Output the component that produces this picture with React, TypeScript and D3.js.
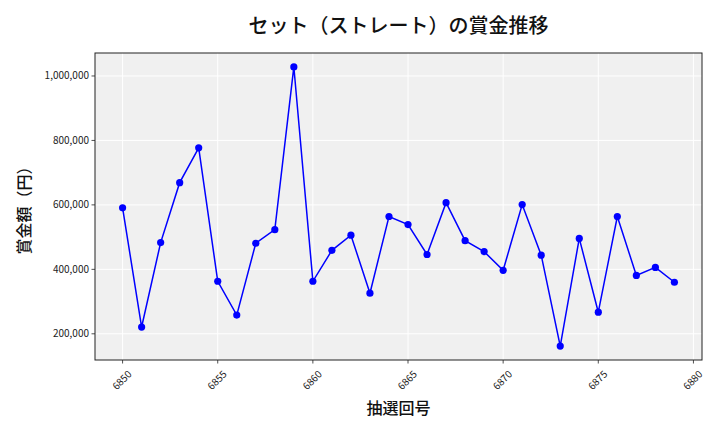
import { useEffect, useRef } from 'react'
import * as d3 from 'd3'

const draws = [
  6850, 6851, 6852, 6853, 6854, 6855, 6856, 6857, 6858, 6859,
  6860, 6861, 6862, 6863, 6864, 6865, 6866, 6867, 6868, 6869,
  6870, 6871, 6872, 6873, 6874, 6875, 6876, 6877, 6878, 6879,
]
const prizes = [
  591000, 221000, 483000, 669000, 777000, 363000, 258000, 481000, 523000, 1028000,
  363000, 459000, 506000, 326000, 564000, 539000, 446000, 607000, 489000, 455000,
  397000, 601000, 444000, 162000, 496000, 267000, 564000, 381000, 406000, 360000,
]
const xTicks = [6850, 6855, 6860, 6865, 6870, 6875, 6880]
const yTicks = [200000, 400000, 600000, 800000, 1000000]

const FONT = '"Noto Sans CJK JP", "Noto Sans", sans-serif'

export default function App() {
  const svgRef = useRef<SVGSVGElement>(null)

  useEffect(() => {
    const svg = d3.select(svgRef.current)
    svg.selectAll('*').remove()

    const W = 720, H = 432
    const m = { left: 95, right: 702, top: 53, bottom: 360 }

    const xMin = d3.min(draws)!, xMax = d3.max(draws)!
    const xPad = (xMax - xMin) * 0.05
    const x = d3.scaleLinear().domain([xMin - xPad, xMax + xPad]).range([m.left, m.right])
    const yMin = d3.min(prizes)!, yMax = d3.max(prizes)!
    const yPad = (yMax - yMin) * 0.05
    const y = d3.scaleLinear().domain([yMin - yPad, yMax + yPad]).range([m.bottom, m.top])

    svg.attr('width', W).attr('height', H)
    const g = svg.append('g')
    g.append('rect').attr('width', W).attr('height', H).attr('fill', '#ffffff')

    // plot background
    g.append('rect').attr('x', m.left).attr('y', m.top)
      .attr('width', m.right - m.left).attr('height', m.bottom - m.top).attr('fill', '#f0f0f0')

    // Grid
    xTicks.forEach((t) => {
      g.append('line').attr('x1', x(t)).attr('x2', x(t)).attr('y1', m.top).attr('y2', m.bottom)
        .attr('stroke', '#ffffff').attr('stroke-width', 1)
    })
    yTicks.forEach((t) => {
      g.append('line').attr('x1', m.left).attr('x2', m.right).attr('y1', y(t)).attr('y2', y(t))
        .attr('stroke', '#ffffff').attr('stroke-width', 1)
    })

    // Line + markers
    const line = d3.line<number>().x((_, i) => x(draws[i])).y((d) => y(d))
    g.append('path').datum(prizes).attr('d', line)
      .attr('fill', 'none').attr('stroke', '#0000ff').attr('stroke-width', 1.5)
    prizes.forEach((v, i) => {
      g.append('circle').attr('cx', x(draws[i])).attr('cy', y(v)).attr('r', 3.6).attr('fill', '#0000ff')
    })

    // Spines
    g.append('rect').attr('x', m.left).attr('y', m.top)
      .attr('width', m.right - m.left).attr('height', m.bottom - m.top)
      .attr('fill', 'none').attr('stroke', '#222').attr('stroke-width', 1)

    // X ticks
    xTicks.forEach((t) => {
      g.append('line').attr('x1', x(t)).attr('x2', x(t)).attr('y1', m.bottom).attr('y2', m.bottom + 3.5)
        .attr('stroke', '#222').attr('stroke-width', 0.8)
      g.append('text')
        .attr('transform', `translate(${x(t) + 3},${m.bottom + 8}) rotate(-45)`)
        .attr('text-anchor', 'end').attr('dominant-baseline', 'hanging')
        .attr('font-family', FONT).attr('font-size', 10).attr('fill', '#222')
        .text(String(t))
    })

    // Y ticks
    const fmt = d3.format(',')
    yTicks.forEach((t) => {
      g.append('line').attr('x1', m.left - 3.5).attr('x2', m.left).attr('y1', y(t)).attr('y2', y(t))
        .attr('stroke', '#222').attr('stroke-width', 0.8)
      g.append('text').attr('x', m.left - 6).attr('y', y(t)).attr('dy', '0.35em')
        .attr('text-anchor', 'end').attr('font-family', FONT).attr('font-size', 10).attr('fill', '#222')
        .text(fmt(t))
    })

    // Title and axis labels
    const cx = (m.left + m.right) / 2
    g.append('text').attr('x', cx).attr('y', 33).attr('text-anchor', 'middle')
      .attr('font-family', FONT).attr('font-size', 20).attr('font-weight', 500).attr('fill', '#111')
      .text('セット（ストレート）の賞金推移')
    g.append('text').attr('x', cx).attr('y', 414).attr('text-anchor', 'middle')
      .attr('font-family', FONT).attr('font-size', 16).attr('font-weight', 500).attr('fill', '#111')
      .text('抽選回号')
    g.append('text').attr('transform', `translate(30,${(m.top + m.bottom) / 2}) rotate(-90)`)
      .attr('text-anchor', 'middle').attr('font-family', FONT).attr('font-size', 16)
      .attr('font-weight', 500).attr('fill', '#111')
      .text('賞金額（円）')
  }, [])

  return (
    <div style={{ position: 'absolute', left: 0, top: 0 }}>
      <svg ref={svgRef} style={{ display: 'block' }} />
    </div>
  )
}
